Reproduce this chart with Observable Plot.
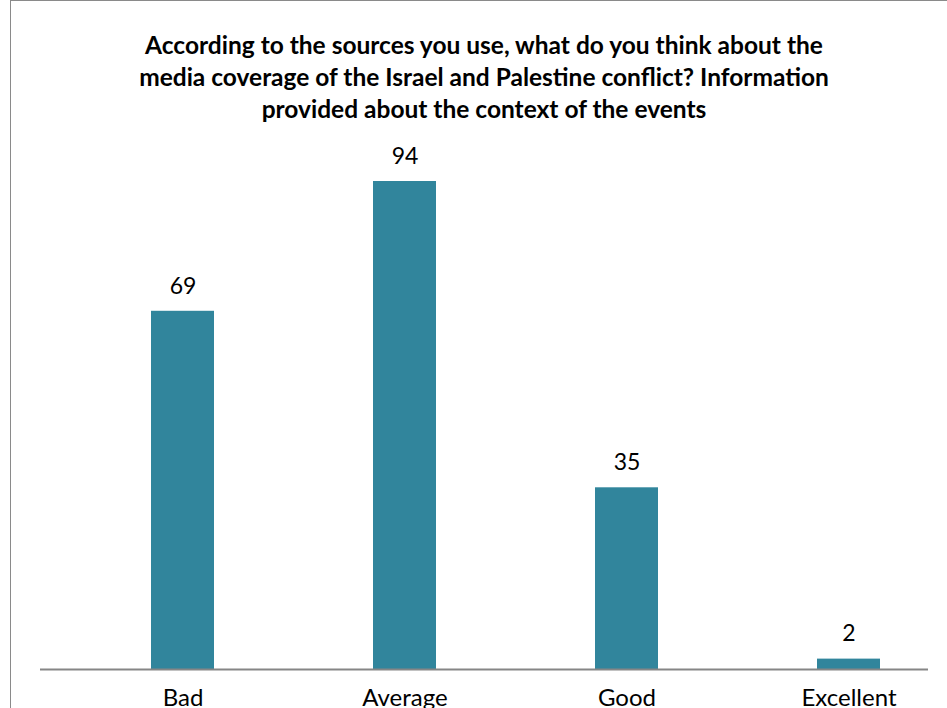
<!DOCTYPE html>
<html><head><meta charset="utf-8">
<script src="https://cdn.jsdelivr.net/npm/d3@7"></script>
<script src="https://cdn.jsdelivr.net/npm/@observablehq/plot@0.6"></script>
<style>
body{margin:0;background:#fff;overflow:hidden;font-family:Lato,"Open Sans",sans-serif;}
#wrap{position:relative;width:947px;height:708px;}
#frame{position:absolute;left:10px;top:0;width:960px;height:720px;border-left:1.5px solid #8a8a8a;border-top:1.5px solid #8a8a8a;pointer-events:none;}
#title{position:absolute;left:0;top:29px;width:968px;text-align:center;font-weight:bold;font-size:24.5px;line-height:32px;color:#000;white-space:nowrap;}
#chart{position:absolute;left:0;top:140px;}
</style></head>
<body><div id="wrap"><div id="title">According to the sources you use, what do you think about the<br>media coverage of the Israel and Palestine conflict? Information<br>provided about the context of the events</div><div id="chart"></div><div id="frame"></div></div>
<script>
const categories = ["Bad", "Average", "Good", "Excellent"];
const values = [69, 94, 35, 2];
const data = categories.map((c, i) => ({category: c, value: values[i]}));
const barColor = "#31859c";

const chart = Plot.plot({
  width: 947,
  height: 568,
  marginLeft: 40,
  marginRight: 19,
  marginTop: 41,
  marginBottom: 39,
  x: {domain: categories, padding: 0, axis: null},
  y: {domain: [0, 94], axis: null},
  style: {fontFamily: "Lato, 'Open Sans', sans-serif", background: "transparent"},
  marks: [
    Plot.barY(data, {x: "category", y: "value", fill: barColor, insetLeft: 111, insetRight: 48}),
    Plot.ruleY([0], {stroke: "#868686", strokeWidth: 2}),
    Plot.text(data, {x: "category", y: "value", text: d => String(d.value), dx: 31.5, dy: -25, fontSize: 23, fill: "#000"}),
    Plot.text(data, {x: "category", y: () => 0, text: "category", dx: 31.5, dy: 29, fontSize: 24, fill: "#000"})
  ]
});
document.getElementById("chart").appendChild(chart);
</script></body></html>
